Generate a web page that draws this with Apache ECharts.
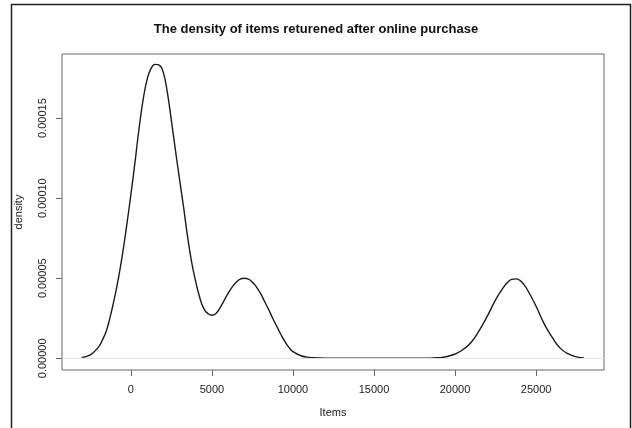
<!DOCTYPE html>
<html>
<head>
<meta charset="utf-8">
<script src="https://cdn.jsdelivr.net/npm/echarts@6/dist/echarts.min.js"></script>
<style>
html,body{margin:0;padding:0;background:#fff;}
#c{width:632px;height:428px;}
</style>
</head>
<body>
<div id="c"></div>
<script>
const titleText = 'The density of items returened after online purchase';
const xTitle = 'Items';
const yTitle = 'density';
const xTicks = [0, 5000, 10000, 15000, 20000, 25000];
const yTicks = [0, 0.00005, 0.0001, 0.00015];
const itemsX = [-3030, -2500, -2000, -1750, -1500, -1250, -1000, -750, -500, -250, 0, 250, 500, 750, 1000, 1250, 1500, 1750, 2000, 2250, 2500, 2750, 3000, 3250, 3500, 3750, 4000, 4250, 4500, 4750, 5000, 5250, 5500, 5750, 6000, 6250, 6500, 6750, 7000, 7250, 7500, 7750, 8000, 8250, 8500, 8750, 9000, 9250, 9500, 9750, 10000, 10500, 11000, 11500, 12000, 13000, 15000, 17000, 18000, 19000, 19500, 20000, 20500, 21000, 21500, 22000, 22500, 23000, 23250, 23500, 23750, 24000, 24250, 24500, 25000, 25500, 26000, 26500, 27000, 27500, 27950];
const densityE5 = [0.06, 0.22, 0.7, 1.15, 1.75, 2.7, 3.8, 5.1, 6.6, 8.35, 10.2, 12.2, 14.3, 16.1, 17.4, 18.1, 18.35, 18.3, 17.85, 16.6, 14.85, 13.0, 11.2, 9.45, 7.6, 6.0, 4.8, 3.8, 3.1, 2.8, 2.69, 2.8, 3.15, 3.6, 4.05, 4.45, 4.75, 4.95, 5.0, 4.95, 4.75, 4.45, 4.05, 3.55, 3.05, 2.5, 2.0, 1.5, 1.05, 0.68, 0.42, 0.16, 0.06, 0.03, 0.01, 0.0, 0.0, 0.0, 0.0, 0.04, 0.11, 0.27, 0.55, 1.0, 1.75, 2.65, 3.65, 4.45, 4.75, 4.93, 4.96, 4.87, 4.6, 4.22, 3.25, 2.15, 1.3, 0.62, 0.27, 0.09, 0.02];

const data = itemsX.map((x, i) => [x, densityE5[i] * 1e-5]);

const chart = echarts.init(document.getElementById('c'));
const font = 'Liberation Sans, Arial, sans-serif';
chart.setOption({
  animation: false,
  backgroundColor: '#fff',
  grid: { left: 62, right: 28, top: 54, bottom: 58, show: true, borderColor: '#666', borderWidth: 1, backgroundColor: 'transparent' },
  xAxis: {
    type: 'value', min: -4248, max: 29190,
    axisLine: { show: false, onZero: false },
    splitLine: { show: false },
    axisTick: { show: true, inside: false, length: 6, lineStyle: { color: '#666' }, customValues: xTicks },
    axisLabel: { customValues: xTicks, margin: 14, fontFamily: font, fontSize: 11, color: '#222', formatter: v => String(v) }
  },
  yAxis: {
    type: 'value', min: -0.0000073, max: 0.000190,
    axisLine: { show: false, onZero: false },
    splitLine: { show: false },
    axisTick: { show: true, inside: false, length: 6, lineStyle: { color: '#666' }, customValues: yTicks },
    axisLabel: { customValues: yTicks, rotate: 90, margin: 14, fontFamily: font, fontSize: 11, color: '#222',
      formatter: v => v.toFixed(5) }
  },
  series: [{
    type: 'line', data: data, smooth: 0.5, showSymbol: false, symbol: 'none',
    lineStyle: { color: '#1a1a1a', width: 1.4 },
    markLine: { silent: true, symbol: 'none', label: { show: false },
      lineStyle: { color: '#e2e2e2', width: 1, type: 'solid' },
      data: [{ yAxis: 0 }] },
    z: 3
  }],
  graphic: [
    { type: 'text', left: 'center', top: 23, style: { text: titleText, font: 'bold 13px ' + font, fill: '#111' } },
    { type: 'text', style: { text: xTitle, font: '11px ' + font, fill: '#222', x: 333, y: 413, align: 'center', verticalAlign: 'middle' } },
    { type: 'text', rotation: Math.PI / 2, x: 19, y: 212, style: { text: yTitle, font: '11px ' + font, fill: '#222', x: 0, y: 0, align: 'center', verticalAlign: 'middle' } },
    { type: 'polyline', shape: { points: [[11.5, 428], [11.5, 4.5], [630.5, 4.5], [630.5, 428]] }, style: { stroke: '#222', lineWidth: 1.5, fill: null } }
  ]
});
</script>
</body>
</html>
